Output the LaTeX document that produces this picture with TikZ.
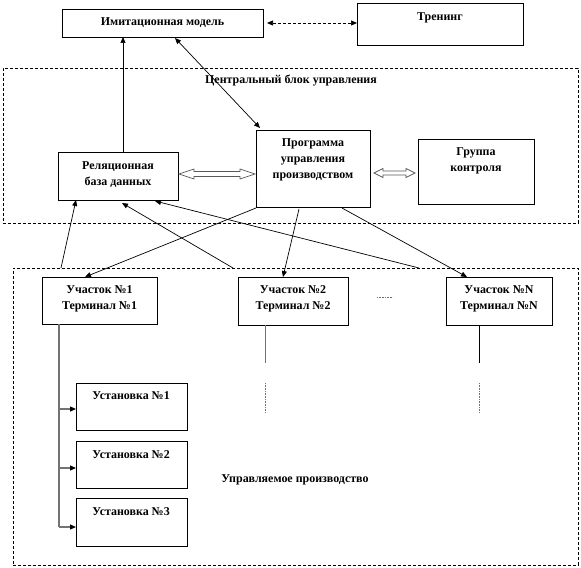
\documentclass[tikz,border=0pt]{standalone}
\usepackage{fontspec}
\setmainfont{Liberation Serif}
\usetikzlibrary{arrows.meta,calc}
\begin{document}
\begin{tikzpicture}[x=1bp,y=-1bp,
  box/.style={draw, line width=0.8bp, inner sep=0pt, outer sep=0pt},
  frame/.style={draw, line width=0.8bp, dash pattern=on 3bp off 2bp, inner sep=0pt, outer sep=0pt},
  txt/.style={font=\bfseries\fontsize{12}{16}\selectfont, align=center, inner sep=0pt},
  arr/.style={line width=0.7bp, -{Triangle[length=6bp,width=5bp]}},
  darr/.style={line width=0.7bp, {Triangle[length=6bp,width=5bp]}-{Triangle[length=6bp,width=5bp]}},
  hollow/.style={draw=black!65, line width=0.7bp, fill=white},
  tree/.style={draw=black!55, line width=1.2bp},
  tarr/.style={draw=black!55, line width=1.2bp, -{Triangle[length=6bp,width=5bp,fill=black,color=black]}},
  dots/.style={draw=black!55, line width=0.8bp, dash pattern=on 0.8bp off 0.8bp},
]
\useasboundingbox (0,0) rectangle (581,568);

% boxes
\node[box, minimum width=201bp, minimum height=28bp] (imit) at (162.5,23) {};
\node[box, minimum width=166bp, minimum height=42bp] (tren) at (440,24) {};
\node[frame, minimum width=575bp, minimum height=155bp] (cbu) at (290.5,145.5) {};
\node[box, minimum width=120bp, minimum height=48bp] (rel) at (118,176) {};
\node[box, minimum width=114bp, minimum height=77bp] (prog) at (313,168.5) {};
\node[box, minimum width=116bp, minimum height=65bp] (grp) at (476,171.5) {};
\node[frame, minimum width=565bp, minimum height=297bp] (up) at (295.5,416.5) {};
\node[box, minimum width=115bp, minimum height=47bp] (uch1) at (99.5,300.5) {};
\node[box, minimum width=110bp, minimum height=48bp] (uch2) at (293,301) {};
\node[box, minimum width=106bp, minimum height=48bp] (uchN) at (499,301) {};
\node[box, minimum width=111bp, minimum height=47bp] (ust1) at (131.5,406.5) {};
\node[box, minimum width=111bp, minimum height=47bp] (ust2) at (131.5,464.5) {};
\node[box, minimum width=111bp, minimum height=48bp] (ust3) at (131.5,522) {};

% texts
\node[txt] (imit-t) at (162.5,23) {Имитационная модель};
\node[txt] (tren-t) at (440,18) {Тренинг};
\node[txt] (cbu-t) at (291,81) {Центральный блок управления};
\node[txt] (rel-t) at (118,175) {Реляционная\\база данных};
\node[txt] (prog-t) at (313,159.5) {Программа\\управления\\производством};
\node[txt] (grp-t) at (476,160.5) {Группа\\контроля};
\node[txt] (uch1-t) at (99.5,298.5) {Участок №1\\Терминал №1};
\node[txt] (uch2-t) at (293,298.5) {Участок №2\\Терминал №2};
\node[txt] (uchN-t) at (499,298.5) {Участок №N\\Терминал №N};
\node[txt] (ust1-t) at (131,396) {Установка №1};
\node[txt] (ust2-t) at (131,455) {Установка №2};
\node[txt] (ust3-t) at (131,512) {Установка №3};
\node[txt] (up-t) at (295,480) {Управляемое производство};

% top connectors
\draw[arr] ($(rel.north)+(5,0)$) -- ($(rel.north |- imit.south)+(5,0)$);
\draw[darr] ($(imit.south)+(12.5,1)$) -- ($(prog.north west)+(4,-2)$);
\draw[darr, dash pattern=on 3bp off 2bp] ($(imit.east)+(4,0)$) -- (imit.east -| tren.west);

% hollow double arrows
\coordinate (h1a) at ($(rel.east)+(1,-2)$);
\coordinate (h1b) at ($(prog.west)+(-1,5.5)$);
\draw[hollow] (h1a) -- ++(15,-5) -- ++(0,2.5) -- ++(46,0) -- ++(0,-2.5) -- (h1b)
  -- ++(-15,5) -- ++(0,-2.5) -- ++(-46,0) -- ++(0,2.5) -- cycle;
\coordinate (h2a) at ($(prog.east)+(4,4.5)$);
\coordinate (h2b) at ($(grp.west)+(-3,1.5)$);
\draw[hollow] (h2a) -- ++(9,-4.5) -- ++(0,2.5) -- ++(23,0) -- ++(0,-2.5) -- (h2b)
  -- ++(-9,4.5) -- ++(0,-2.5) -- ++(-23,0) -- ++(0,2.5) -- cycle;

% lines up to the database
\coordinate (p1) at ($(up.north west)+(48,0)$);
\coordinate (p2) at ($(up.north west)+(220,0)$);
\coordinate (p3) at ($(up.north west)+(406,0)$);
\draw[arr] (p1) -- ($(rel.south)+(-42,0)$);
\draw[arr] (p2) -- ($(rel.south)+(4,3)$);
\draw[arr] (p3) -- ($(rel.south)+(37,1)$);

% program to sections
\draw[arr] ($(prog.south west)+(0,1)$) -- ($(uch1.north)+(-14.5,0)$);
\draw[arr] ($(prog.south)+(-14,2)$) -- ($(uch2.north)+(-10,0)$);
\draw[arr] ($(prog.south)+(29,1)$) -- ($(uchN.north)+(-32,0)$);

% tree of installations
\coordinate (t1) at ($(uch1.south)+(-40.5,0)$);
\draw[tree] (t1) -- ($(t1 |- ust3.west)+(0,5)$);
\draw[tarr] ($(t1 |- ust1.west)+(0,2.5)$) -- ($(ust1.west)+(0,2.5)$);
\draw[tarr] ($(t1 |- ust2.west)+(0,3.5)$) -- ($(ust2.west)+(0,3.5)$);
\draw[tarr] ($(t1 |- ust3.west)+(0,5)$) -- ($(ust3.west)+(0,5)$);

% stubs
\coordinate (s2) at ($(uch2.south)+(-28,0)$);
\draw[tree, line width=1bp] (s2) -- ++(0,38);
\draw[dots] ($(s2)+(0,58)$) -- ++(0,29);
\coordinate (sN) at ($(uchN.south)+(-20,0)$);
\draw[line width=0.8bp] (sN) -- ++(0,38);
\draw[dots] ($(sN)+(0,58)$) -- ++(0,29);
\draw[dots] ($(uch2.east)+(29,-4)$) -- ++(16,0);
\end{tikzpicture}
\end{document}
